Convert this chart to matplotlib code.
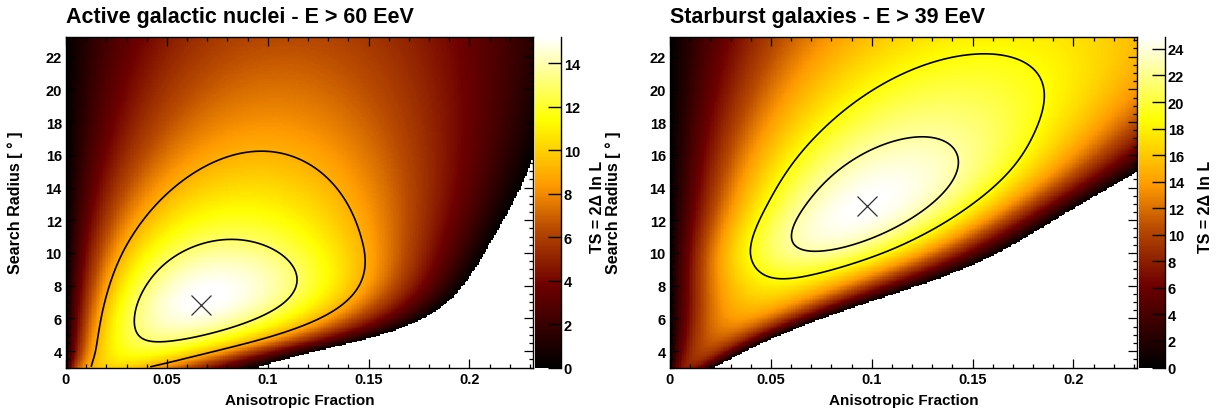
import numpy as np
import matplotlib
matplotlib.use("Agg")
import matplotlib.pyplot as plt
from matplotlib.colors import LinearSegmentedColormap
from matplotlib.ticker import MultipleLocator, FuncFormatter

# ---------------- data ----------------
frac_range = (0.0, 0.2315)
radius_range = (3.0, 23.2)
contour_deltas = [6.18, 2.30]          # 2 sigma, 1 sigma (2 d.o.f.)

agn_title = "Active galactic nuclei - E > 60 EeV"
agn_best = (0.067, 6.85)
agn_ts_max = 15.2
agn_cbar_ticks = [0, 2, 4, 6, 8, 10, 12, 14]
agn_ridge_r = [3.0, 4.57, 6.85, 10.83, 16.26, 23.2]
agn_ridge_ts = [10.0, 12.9, 15.2, 12.9, 9.0, 6.3]
agn_ridge_f = [0.024, 0.046, 0.067, 0.082, 0.097, 0.110]
agn_edge_r = [3.0, 3.75, 4.68, 5.7, 7.1, 9.2, 11.6, 13.3, 15.95, 20.0, 23.2]
agn_edge_f = [0.095, 0.116, 0.147, 0.172, 0.190, 0.2035, 0.215, 0.2225, 0.232, 0.243, 0.250]

sbg_title = "Starburst galaxies - E > 39 EeV"
sbg_best = (0.0975, 12.9)
sbg_ts_max = 24.9
sbg_cbar_ticks = [0, 2, 4, 6, 8, 10, 12, 14, 16, 18, 20, 22, 24]
sbg_ridge_r = [3.0, 5.0, 6.5, 8.37, 10.05, 12.9, 17.1, 22.2, 23.2]
sbg_ridge_ts = [8.0, 11.8, 14.8, 18.6, 22.5, 24.9, 22.6, 18.7, 18.0]
sbg_ridge_f = [0.009, 0.0255, 0.039, 0.0555, 0.0715, 0.0975, 0.125, 0.156, 0.162]
sbg_edge_r = [3.0, 5.0, 7.0, 9.0, 11.0, 13.0, 15.0, 18.0, 23.2]
sbg_edge_f = [0.022, 0.055, 0.099, 0.145, 0.177, 0.204, 0.232, 0.272, 0.35]

x_label = "Anisotropic Fraction"
y_label = "Search Radius [ \u00b0 ]"
z_label = "TS = 2\u0394 ln L"

cmap_stops = [0.0, 0.25, 0.42, 0.55, 0.75, 1.0]
cmap_colors = ["#000000", "#6e0000", "#b84a00", "#ff9900", "#ffff00", "#ffffff"]

# ---------------- helpers ----------------
def spline(xk, yk, x):
    """natural cubic spline through the knots"""
    xk = np.asarray(xk, float); yk = np.asarray(yk, float)
    n = len(xk); h = np.diff(xk)
    A = np.zeros((n, n)); b = np.zeros(n)
    A[0, 0] = A[-1, -1] = 1.0
    for i in range(1, n - 1):
        A[i, i - 1] = h[i - 1]; A[i, i] = 2 * (h[i - 1] + h[i]); A[i, i + 1] = h[i]
        b[i] = 6 * ((yk[i + 1] - yk[i]) / h[i] - (yk[i] - yk[i - 1]) / h[i - 1])
    M = np.linalg.solve(A, b)
    i = np.clip(np.searchsorted(xk, x) - 1, 0, n - 2)
    hi = h[i]; a = xk[i + 1] - x; s = x - xk[i]
    return (M[i] * a**3 / (6 * hi) + M[i + 1] * s**3 / (6 * hi)
            + (yk[i] / hi - M[i] * hi / 6) * a + (yk[i + 1] / hi - M[i + 1] * hi / 6) * s)


def solve_c(t0):
    lo = np.full_like(t0, -9.0); hi = np.full_like(t0, 9.0)
    for _ in range(80):
        mid = 0.5 * (lo + hi); c = np.exp(mid)
        F = np.log1p(c * t0) - c * t0 / (1 + c)
        neg = F < 0
        lo = np.where(neg, mid, lo); hi = np.where(neg, hi, mid)
    return np.exp(0.5 * (lo + hi))


def ts_map(f, r, rr, rts, rf, er, ef):
    T = spline(rr, rts, r)[:, None]
    fm = spline(rr, rf, r)[:, None]
    f0 = spline(er, ef, r)[:, None]
    t0 = np.maximum(f0 / fm, 2.03)
    c = solve_c(t0)
    d = c / (1 + c)
    hfun = lambda t: np.log1p(c * t) - d * t
    return T * hfun(f[None, :] / fm) / hfun(1.0)


# ---------------- figure ----------------
plt.rcParams["font.family"] = ["Liberation Sans", "DejaVu Sans"]
plt.rcParams["font.weight"] = "bold"

W, H = 1227, 414
fig = plt.figure(figsize=(W / 100, H / 100), dpi=100)
cmap = LinearSegmentedColormap.from_list("ts", list(zip(cmap_stops, cmap_colors)))

nf, nr = 300, 260
f_edges = np.linspace(*frac_range, nf + 1)
r_edges = np.linspace(*radius_range, nr + 1)
f_c = 0.5 * (f_edges[1:] + f_edges[:-1])
r_c = 0.5 * (r_edges[1:] + r_edges[:-1])

panels = [
    dict(x0=66, cx0=535, title=agn_title, best=agn_best, tmax=agn_ts_max, ticks=agn_cbar_ticks,
         rr=agn_ridge_r, rts=agn_ridge_ts, rf=agn_ridge_f, er=agn_edge_r, ef=agn_edge_f,
         ylab_x=15, zlab_x=598),
    dict(x0=670, cx0=1139, title=sbg_title, best=sbg_best, tmax=sbg_ts_max, ticks=sbg_cbar_ticks,
         rr=sbg_ridge_r, rts=sbg_ridge_ts, rf=sbg_ridge_f, er=sbg_edge_r, ef=sbg_edge_f,
         ylab_x=613, zlab_x=1205),
]

ax_w, ax_top, ax_bot = 467, 38, 368.5
for p in panels:
    ax = fig.add_axes([p["x0"] / W, (H - ax_bot) / H, ax_w / W, (ax_bot - ax_top) / H])
    TS = ts_map(f_c, r_c, p["rr"], p["rts"], p["rf"], p["er"], p["ef"])
    TSm = np.ma.masked_less(TS, 0.0)
    mesh = ax.pcolormesh(f_edges, r_edges, TSm, cmap=cmap, vmin=0, vmax=p["tmax"],
                         shading="flat", rasterized=True)
    ax.contour(f_c, r_c, TS, levels=[p["tmax"] - dl for dl in contour_deltas],
               colors="black", linewidths=1.2)
    ax.plot([p["best"][0]], [p["best"][1]], marker="x", ms=15, mew=0.9,
            color="#303030", linestyle="none")
    ax.set_xlim(*frac_range); ax.set_ylim(*radius_range)
    ax.xaxis.set_major_locator(MultipleLocator(0.05))
    ax.xaxis.set_minor_locator(MultipleLocator(0.01))
    ax.yaxis.set_major_locator(MultipleLocator(2))
    ax.yaxis.set_minor_locator(MultipleLocator(0.5))
    ax.xaxis.set_major_formatter(FuncFormatter(lambda v, _: "%g" % round(v, 3)))
    ax.tick_params(which="both", direction="in", top=True, right=True, labelsize=10.5, width=0.9)
    ax.tick_params(which="major", length=6.5, pad=3)
    ax.tick_params(which="minor", length=3.2)
    for s in ax.spines.values():
        s.set_linewidth(1.0)

    cax = fig.add_axes([p["cx0"] / W, (H - ax_bot) / H, 26 / W, (ax_bot - ax_top) / H])
    cb = fig.colorbar(mesh, cax=cax)
    cb.outline.set_visible(False)
    cb.set_ticks(p["ticks"])
    cax.tick_params(direction="in", right=True, left=False, length=9.5, width=1.0,
                    labelsize=10.5, pad=2)
    cax.plot([1, 1], [0, 1], transform=cax.transAxes, color="black", lw=1.0, clip_on=False)

    fig.text(p["x0"] / W, (H - 17) / H, p["title"], fontsize=15.5, fontweight="bold",
             ha="left", va="center")
    fig.text((p["x0"] + ax_w / 2) / W, (H - 401) / H, x_label, fontsize=11,
             fontweight="bold", ha="center", va="center")
    fig.text(p["ylab_x"] / W, (H - 203) / H, y_label, fontsize=11.5, fontweight="bold",
             ha="center", va="center", rotation=90)
    fig.text(p["zlab_x"] / W, (H - 207) / H, z_label, fontsize=11.5, fontweight="bold",
             ha="center", va="center", rotation=90)

fig.savefig("out.png", dpi=100)
